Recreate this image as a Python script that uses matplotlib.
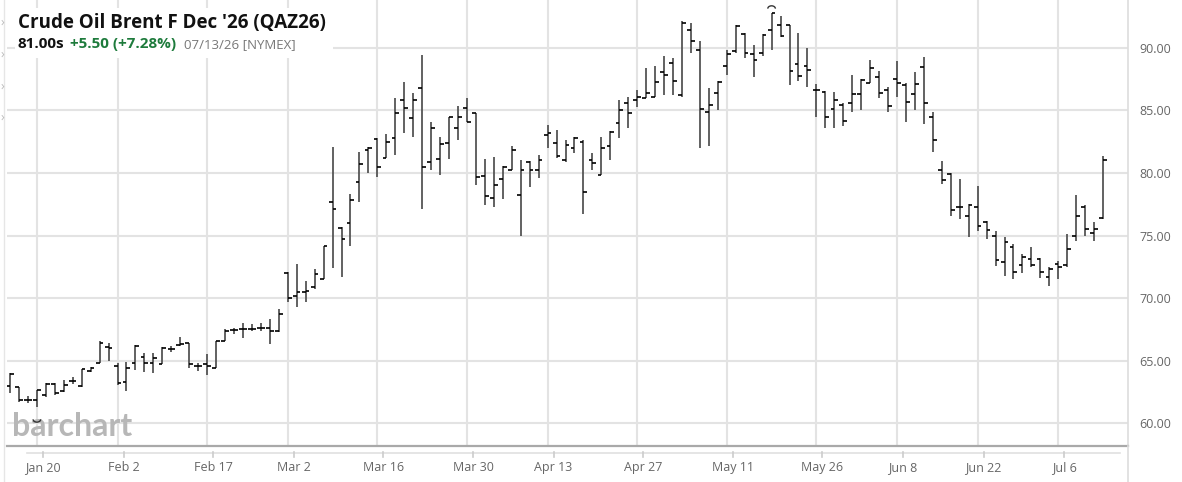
import matplotlib
matplotlib.use("Agg")
import matplotlib.pyplot as plt
import matplotlib.transforms as mtransforms
from matplotlib.patches import Arc, Rectangle
import pandas as pd

plt.rcParams["font.family"] = ["Open Sans", "DejaVu Sans"]

# trading calendar (NYMEX holidays skipped)
holidays = ["2026-01-19", "2026-02-16", "2026-04-03", "2026-05-25", "2026-06-19", "2026-07-03"]
dates = pd.bdate_range("2026-01-14", "2026-07-13", freq="C", holidays=holidays)

# OHLC, one value per trading day
opens = [62.97, 62.90, 61.90, 61.90, 62.30, 63.15, 62.60, 63.40, 63.00, 64.20, 64.85, 66.06,
         64.60, 63.30, 64.85, 65.30, 64.80, 64.70, 65.90, 66.25, 66.40, 64.60, 64.70, 64.40,
         66.60, 67.45, 67.55, 67.50, 67.60, 67.65, 67.35,
         72.00, 70.20, 70.50, 70.90, 71.50, 77.70, 75.60, 76.00, 79.30, 81.85, 82.70, 81.20,
         82.75, 85.85, 84.40, 86.80, 80.85, 81.10, 82.35, 83.55, 85.20, 84.75,
         79.75, 78.00, 79.50, 80.25, 78.20, 80.90, 80.20, 83.00, 82.35, 81.00, 81.95, 82.50,
         81.00, 79.85, 82.15, 83.95, 85.55, 85.85, 86.00, 86.05, 88.05,
         88.80, 86.20, 91.40, 89.80, 84.90, 86.40, 88.55, 89.70, 91.10, 89.50, 89.60, 91.45,
         91.80, 91.80, 88.70, 88.55, 86.60, 86.50, 85.10, 85.45,
         85.55, 86.30, 87.20, 87.70, 86.60, 87.50, 87.05, 86.30, 88.45, 84.45, 80.20, 79.95,
         77.30, 76.55, 77.30, 76.10, 74.95, 72.90, 74.10, 72.65, 73.10,
         73.15, 71.70, 72.70, 72.65, 75.00, 77.30, 75.20, 76.40]
highs = [63.99, 62.92, 62.18, 62.70, 63.20, 63.20, 63.50, 63.67, 64.30, 64.52, 66.60, 66.44,
         64.84, 64.92, 66.25, 65.60, 65.60, 66.10, 66.20, 66.90, 66.40, 64.80, 65.50, 66.60,
         67.50, 67.60, 68.00, 67.90, 67.98, 68.35, 69.10,
         72.10, 72.70, 71.40, 72.30, 74.20, 82.10, 75.70, 78.35, 81.65, 82.10, 82.80, 83.10,
         86.00, 87.30, 86.40, 89.45, 84.05, 82.90, 84.50, 85.35, 85.95, 84.80,
         81.15, 81.25, 80.55, 82.15, 81.05, 80.95, 81.45, 83.80, 83.40, 82.65, 82.90, 82.60,
         81.60, 82.85, 83.35, 85.85, 86.10, 86.60, 88.35, 88.50, 89.30,
         89.15, 92.10, 91.95, 90.55, 86.75, 87.35, 89.80, 91.80, 91.15, 90.20, 91.10, 92.80,
         92.55, 91.85, 91.20, 90.00, 87.10, 86.55, 86.50, 85.55,
         87.80, 87.50, 89.05, 88.10, 86.90, 88.90, 87.15, 88.05, 89.25, 84.85, 80.95, 80.00,
         79.55, 77.55, 78.95, 76.15, 75.40, 74.90, 74.30, 73.50, 74.05,
         73.20, 72.45, 72.95, 75.15, 78.20, 77.40, 76.10, 81.35]
lows = [62.44, 61.73, 61.65, 61.27, 62.07, 62.30, 62.50, 63.14, 62.90, 64.12, 64.80, 65.00,
        63.05, 62.60, 64.25, 64.10, 64.00, 64.70, 65.67, 66.15, 64.40, 64.20, 63.90, 64.40,
        66.60, 67.10, 66.80, 67.35, 67.35, 66.35, 67.30,
        69.70, 69.30, 69.70, 70.70, 71.50, 72.40, 71.70, 74.15, 77.65, 80.00, 79.65, 81.20,
        81.40, 83.20, 82.90, 77.10, 80.25, 79.80, 81.15, 82.60, 84.05, 79.00,
        77.40, 77.30, 77.90, 80.20, 75.00, 78.90, 79.60, 81.95, 81.20, 80.85, 81.60, 76.75,
        80.20, 79.80, 81.05, 82.80, 83.60, 85.25, 85.95, 86.05, 86.20,
        86.20, 86.05, 89.55, 81.95, 82.15, 85.00, 87.80, 89.55, 89.15, 87.65, 89.35, 89.85,
        90.85, 87.00, 87.35, 86.85, 84.45, 83.60, 83.60, 83.75,
        84.90, 85.05, 87.20, 85.95, 84.85, 86.10, 84.05, 85.00, 83.90, 81.65, 79.15, 76.55,
        76.35, 74.85, 75.35, 74.75, 72.60, 71.75, 71.50, 72.00, 72.50,
        71.60, 70.95, 71.55, 72.50, 74.60, 74.95, 74.60, 76.30]
closes = [63.91, 61.90, 61.85, 62.65, 63.15, 62.40, 63.10, 63.40, 64.30, 64.45, 66.40, 66.00,
          63.20, 64.40, 66.20, 64.80, 65.20, 66.00, 65.90, 66.30, 64.75, 64.60, 64.60, 66.60,
          67.40, 67.45, 67.50, 67.50, 67.65, 67.40, 68.70,
          70.05, 70.45, 70.60, 71.95, 74.20, 77.10, 74.70, 77.80, 80.70, 82.00, 80.45, 82.45,
          84.75, 85.20, 85.85, 80.50, 83.60, 82.30, 84.50, 84.45, 84.05, 79.65,
          78.15, 79.05, 80.50, 81.80, 80.20, 80.20, 81.00, 83.20, 81.35, 82.20, 82.80, 78.45,
          80.80, 81.95, 83.30, 85.05, 84.75, 86.05, 86.40, 87.25, 87.80,
          87.35, 91.95, 90.55, 85.10, 85.40, 87.30, 89.50, 91.75, 89.60, 89.05, 91.00, 92.75,
          90.95, 88.15, 87.75, 88.20, 86.60, 84.45, 85.80, 84.15,
          86.30, 87.45, 88.40, 86.40, 85.35, 87.20, 85.70, 87.10, 85.55, 82.65, 79.45, 77.05,
          77.30, 77.40, 75.80, 75.45, 73.05, 74.50, 72.05, 73.30, 72.65,
          72.05, 72.35, 72.50, 73.90, 76.55, 75.50, 75.50, 81.00]

tick_dates = ["2026-01-20", "2026-02-02", "2026-02-17", "2026-03-02", "2026-03-16", "2026-03-30",
              "2026-04-13", "2026-04-27", "2026-05-11", "2026-05-26", "2026-06-08", "2026-06-22",
              "2026-07-06"]
y_ticks = [60, 65, 70, 75, 80, 85, 90]
last_price = closes[-1]

W, H = 1182, 482
fig = plt.figure(figsize=(W / 100, H / 100), dpi=100)
fig.patch.set_facecolor("white")
ax = fig.add_axes([7 / W, 36 / H, 1121 / W, 446 / H])

x = list(range(len(dates)))
ax.vlines(x, lows, highs, color="#555555", lw=1.3, zorder=3)
ax.hlines(opens, [i - 0.42 for i in x], x, color="black", lw=1.2, zorder=3)
ax.hlines(closes, x, [i + 0.42 for i in x], color="black", lw=1.2, zorder=3)

# high / low markers
hi = highs.index(max(highs))
lo = lows.index(min(lows))
ax.add_patch(Arc((hi, max(highs) + 0.32), 0.85, 0.45, theta1=0, theta2=180, color="#333", lw=1))
ax.add_patch(Arc((lo, min(lows) - 0.95), 0.85, 0.45, theta1=180, theta2=360, color="#333", lw=1,
                 zorder=4))

ax.set_xlim(-0.335, 124.78)
ax.set_ylim(58.19, 93.81)

tick_idx = [list(dates).index(pd.Timestamp(d)) for d in tick_dates]
ax.set_xticks(tick_idx)
ax.set_xticklabels([pd.Timestamp(d).strftime("%b %-d") for d in tick_dates])
ax.set_yticks(y_ticks)
ax.set_yticklabels([f"{v:.2f}" for v in y_ticks])
ax.yaxis.tick_right()
ax.tick_params(axis="y", length=0, pad=8, labelsize=9, labelcolor="#666666")
ax.tick_params(axis="x", length=0, pad=11, labelsize=9, labelcolor="#666666")
shift = mtransforms.ScaledTranslation(6 / 100, 0, fig.dpi_scale_trans)
for lab in ax.get_xticklabels():
    lab.set_transform(lab.get_transform() + shift)

ax.grid(True, color="#e3e3e3", lw=1.5, zorder=0)
ax.set_axisbelow(True)
for side in ["top", "left"]:
    ax.spines[side].set_visible(False)
ax.spines["bottom"].set_color("#a9a9a9")
ax.spines["bottom"].set_linewidth(1.6)
ax.spines["right"].set_color("#dddddd")
ax.spines["right"].set_linewidth(1.2)

# date ruler under the plot
trans = mtransforms.blended_transform_factory(ax.transData, ax.transAxes)
ruler_y = -7 / 446
ax.plot([20 / 1121, 1113 / 1121], [ruler_y, ruler_y], transform=ax.transAxes,
        color="#e0e0e0", lw=1.2, clip_on=False)
for t in tick_idx:
    ax.plot([t + 0.67, t + 0.67], [-5.5 / 446, -10.5 / 446], transform=trans,
            color="#cccccc", lw=1.2, clip_on=False)

# right border continuing below the axes, left sidebar line
fig.add_artist(plt.Line2D([1128 / W, 1128 / W], [0, 36 / H], color="#dddddd", lw=1.2))
fig.add_artist(plt.Line2D([4 / W, 4 / W], [0, 1], color="#e6e6e6", lw=1.0))
for yy in [22, 54, 86, 117]:
    fig.text(1 / W, 1 - yy / H, "›", fontsize=9, color="#bbbbbb", va="center", ha="left")

# last price box
ax.text(1.0 + 5 / 1121, last_price, f"{last_price:.2f}", transform=trans, color="white",
        fontsize=9, fontweight="bold", va="center", ha="left", zorder=10, clip_on=False,
        bbox=dict(boxstyle="square,pad=0.42", fc="black", ec="none"))

# watermark
ax.text(5 / 1121, 5 / 446, "barchart", transform=ax.transAxes, fontsize=23,
        fontweight="bold", family=["Lato", "DejaVu Sans"], color="#b7b7b7",
        va="bottom", ha="left", zorder=1)

# header block
fig.add_artist(Rectangle((15 / W, 1 - 58 / H), 318 / W, 50 / H, transform=fig.transFigure,
                         fc="white", ec="none", zorder=5))
fig.text(18 / W, 1 - 27.7 / H, "Crude Oil Brent F Dec '26 (QAZ26)", fontsize=13.5,
         fontweight="bold", color="#111111", va="baseline", zorder=6)
fig.text(18 / W, 1 - 48.3 / H, "81.00s", fontsize=11, fontweight="bold", color="#111111",
         va="baseline", zorder=6)
fig.text(70 / W, 1 - 48.3 / H, "+5.50 (+7.28%)", fontsize=11, fontweight="bold",
         color="#1e7b3c", va="baseline", zorder=6)
fig.text(184 / W, 1 - 48.3 / H, "07/13/26 [NYMEX]", fontsize=9.5, color="#777777",
         va="baseline", zorder=6)

fig.savefig("out.png", dpi=100)
